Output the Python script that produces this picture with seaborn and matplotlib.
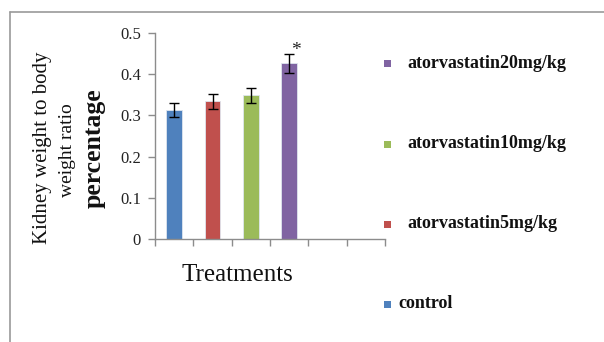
import matplotlib
matplotlib.use("Agg")
import matplotlib.pyplot as plt
import seaborn as sns
import pandas as pd
from matplotlib.patches import Rectangle
from matplotlib.lines import Line2D

groups = ["control", "atorvastatin5mg/kg", "atorvastatin10mg/kg", "atorvastatin20mg/kg"]
values = [0.313, 0.334, 0.349, 0.426]
errors = [0.017, 0.018, 0.018, 0.022]
colors = ["#4F81BD", "#C0504D", "#9BBB59", "#8064A2"]
yticks = [0, 0.1, 0.2, 0.3, 0.4, 0.5]
ytick_labels = ["0", "0.1", "0.2", "0.3", "0.4", "0.5"]

sns.set_theme(style="white")
plt.rcParams["font.family"] = ["Liberation Serif", "DejaVu Serif"]

W, H = 604, 342
fig = plt.figure(figsize=(W / 100, H / 100), dpi=100)
ax = fig.add_axes([155 / W, (H - 239) / H, (385 - 155) / W, (239 - 33) / H])

df = pd.DataFrame({"group": groups, "value": values})
sns.barplot(data=df, x="group", y="value", hue="group", palette=colors,
            order=groups, hue_order=groups, width=0.41, legend=False,
            saturation=1, errorbar=None, ax=ax, edgecolor="#dfe6ef",
            linewidth=0.6)
ax.errorbar(range(len(groups)), values, yerr=errors, fmt="none",
            ecolor="black", elinewidth=1.0, capsize=3.5, capthick=1.0)

# significance marker
ax.text(3 + 0.17, values[3] + errors[3] - 0.012, "*", ha="center", va="bottom",
        fontsize=14, color="#222222")

ax.set_xlim(-0.5, 5.5)
ax.set_ylim(0, 0.5)
ax.set_yticks(yticks)
ax.set_yticklabels(ytick_labels, fontsize=12)
ax.set_xticks([i - 0.5 for i in range(7)])
ax.set_xticklabels([])
ax.set_xlabel("")
ax.set_ylabel("")
for s in ["top", "right"]:
    ax.spines[s].set_visible(False)
for s in ["left", "bottom"]:
    ax.spines[s].set_color("#8c8c8c")
    ax.spines[s].set_linewidth(1.0)
ax.tick_params(axis="both", which="both", direction="out", length=5,
               width=1.0, color="#8c8c8c", left=True, bottom=True, pad=5)
ax.tick_params(axis="y", labelcolor="#222222")

# axis titles
fig.text(43 / W, 1 - 148 / H, "Kidney weight to body", rotation=90,
         ha="center", va="center", fontsize=15, color="#111111")
fig.text(68 / W, 1 - 150 / H, "weight ratio", rotation=90,
         ha="center", va="center", fontsize=14, color="#111111")
fig.text(94 / W, 1 - 148 / H, "percentage", rotation=90, ha="center",
         va="center", fontsize=18.5, fontweight="bold", color="#111111")
fig.text(237 / W, 1 - 275 / H, "Treatments", ha="center", va="center",
         fontsize=18, color="#111111")

# legend (manual, reversed order as in the reference)
leg_y = [304, 224, 144, 63]
for i, (g, c) in enumerate(zip(groups, colors)):
    y = leg_y[i]
    fig.add_artist(Rectangle(((384) / W, 1 - (y + 4) / H), 7 / W, 7 / H,
                             transform=fig.transFigure, facecolor=c,
                             edgecolor="none"))
    tx = 398 if i == 0 else 407
    fig.text(tx / W, 1 - y / H, g, ha="left", va="center", fontsize=13,
             fontweight="bold", color="#111111")

# outer frame lines
fig.add_artist(Line2D([10 / W, 1], [1 - 12 / H, 1 - 12 / H],
                      transform=fig.transFigure, color="#9a9a9a", lw=1.2))
fig.add_artist(Line2D([10 / W, 10 / W], [0, 1 - 12 / H],
                      transform=fig.transFigure, color="#9a9a9a", lw=1.2))

fig.savefig("out.png", dpi=100)
